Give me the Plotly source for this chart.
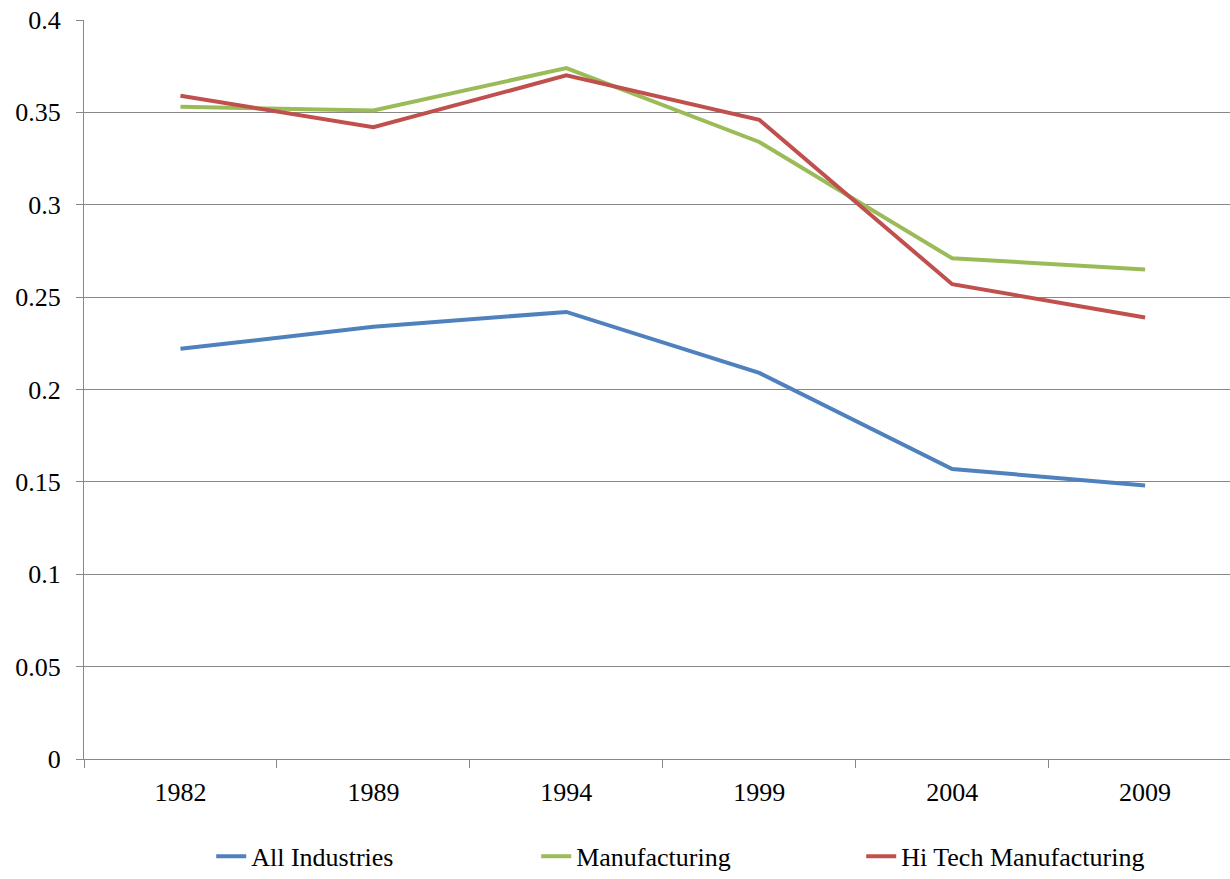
import plotly.graph_objects as go

years = ["1982", "1989", "1994", "1999", "2004", "2009"]
all_industries = [0.222, 0.234, 0.242, 0.209, 0.157, 0.148]
manufacturing = [0.353, 0.351, 0.374, 0.334, 0.271, 0.265]
hi_tech_manufacturing = [0.359, 0.342, 0.370, 0.346, 0.257, 0.239]

series = [
    ("All Industries", all_industries, "#4F81BD"),
    ("Manufacturing", manufacturing, "#9BBB59"),
    ("Hi Tech Manufacturing", hi_tech_manufacturing, "#C0504D"),
]

fig = go.Figure()
for name, values, color in series:
    fig.add_trace(go.Scatter(
        x=years, y=values, name=name, mode="lines",
        line=dict(color=color, width=4),
    ))

font_family = "Liberation Serif"

fig.update_layout(
    width=1230, height=879,
    margin=dict(l=84, r=0, t=20, b=120, autoexpand=False),
    paper_bgcolor="white", plot_bgcolor="white",
    font=dict(family=font_family, size=26, color="black"),
    showlegend=True,
    legend=dict(
        orientation="h", x=0.111, xanchor="left", y=-0.1, yanchor="top",
        font=dict(family=font_family, size=26),
        entrywidth=280, entrywidthmode="pixels",
    ),
    xaxis=dict(
        type="category", range=[-0.5, 5.44],
        showgrid=False, showline=True, linecolor="#888888", linewidth=1,
        ticks="outside", tickson="boundaries", ticklen=8, tickcolor="#888888",
        tickfont=dict(family=font_family, size=26), zeroline=False,
        ticklabelstandoff=10,
    ),
    yaxis=dict(
        range=[0, 0.4], dtick=0.05,
        showgrid=True, gridcolor="#888888", gridwidth=1,
        showline=True, linecolor="#888888", linewidth=1,
        ticks="outside", ticklen=7, tickcolor="#888888",
        tickfont=dict(family=font_family, size=26), zeroline=False,
        ticklabelstandoff=10,
    ),
)

fig.write_html("out.html")
